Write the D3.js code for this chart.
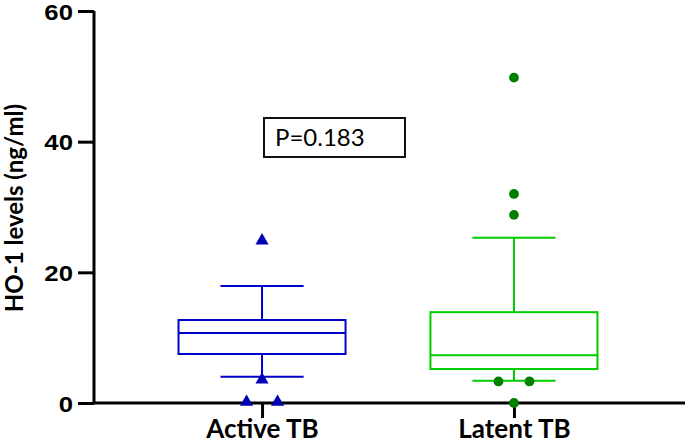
<!DOCTYPE html>
<html>
<head>
<meta charset="utf-8">
<script src="https://cdn.jsdelivr.net/npm/d3@7.9.0/dist/d3.min.js"></script>
<style>
  body { margin: 0; background: #fff; }
  svg { display: block; }
</style>
</head>
<body>
<div id="chart"></div>
<script>
// Box plot data
const groups = ['Active TB', 'Latent TB'];
const whiskerLow = [4.0, 3.4];
const q1 = [7.5, 5.2];
const medians = [10.7, 7.3];
const q3 = [12.7, 13.9];
const whiskerHigh = [17.9, 25.3];
const outliers = [
  [24.7, 3.4, 0, 0],
  [49.8, 32.0, 28.8, 3.3, 3.3, 0]
];
const yTicks = [0, 20, 40, 60];
const pLabel = 'P=0.183';

const lineColors = ['#0000cc', '#00cc00'];
const pointColors = ['#0000b4', '#008000'];

const width = 685, height = 444;
const svg = d3.select('#chart').append('svg')
  .attr('width', width)
  .attr('height', height);

const y = d3.scaleLinear().domain([0, 60]).range([403, 11]);
const x = d3.scalePoint().domain(groups).range([94, 682]).padding(0.667);
const step = x.step();
const boxW = step * 0.663;
const capW = step * 0.33;

// P value box
const pBox = svg.append('g');
pBox.append('rect')
  .attr('x', 264).attr('y', 118)
  .attr('width', 141).attr('height', 39)
  .attr('fill', 'none').attr('stroke', '#111').attr('stroke-width', 2);
pBox.append('text')
  .attr('x', 275).attr('y', 146)
  .attr('font-family', 'Lato, sans-serif')
  .attr('font-size', 24)
  .text(pLabel);

// Boxes
groups.forEach((g, i) => {
  const cx = x(g);
  const gg = svg.append('g')
    .attr('stroke', lineColors[i])
    .attr('stroke-width', 2)
    .attr('fill', 'none');

  gg.append('rect')
    .attr('x', cx - boxW / 2).attr('y', y(q3[i]))
    .attr('width', boxW).attr('height', y(q1[i]) - y(q3[i]));
  gg.append('line')
    .attr('x1', cx - boxW / 2).attr('x2', cx + boxW / 2)
    .attr('y1', y(medians[i])).attr('y2', y(medians[i]));
  // whiskers
  gg.append('line')
    .attr('x1', cx).attr('x2', cx)
    .attr('y1', y(q3[i])).attr('y2', y(whiskerHigh[i]));
  gg.append('line')
    .attr('x1', cx).attr('x2', cx)
    .attr('y1', y(q1[i])).attr('y2', y(whiskerLow[i]));
  [whiskerHigh[i], whiskerLow[i]].forEach(v => {
    gg.append('line')
      .attr('x1', cx - capW / 2).attr('x2', cx + capW / 2)
      .attr('y1', y(v)).attr('y2', y(v));
  });
});

// Axes
const yAxis = svg.append('g')
  .attr('transform', 'translate(94,0)')
  .call(d3.axisLeft(y).tickValues(yTicks).tickSize(16));
yAxis.select('.domain').attr('stroke-width', 3).attr('d', `M0,${y(60)}V${y(0)}`);
yAxis.selectAll('.tick line').attr('stroke-width', 3);
yAxis.selectAll('.tick text')
  .attr('font-family', 'Liberation Sans, Arial, sans-serif')
  .attr('font-weight', 'bold')
  .attr('font-size', 23)
  .attr('dy', '0.36em')
  .attr('transform', 'scale(1.12,1)')
  .attr('x', -21 / 1.12)
  .attr('fill', '#000');

const xAxis = svg.append('g')
  .attr('transform', `translate(0,${y(0)})`)
  .call(d3.axisBottom(x).tickSize(15));
xAxis.select('.domain').attr('stroke-width', 3).attr('d', `M94,0H${width}`);
xAxis.selectAll('.tick line').attr('stroke-width', 3);
xAxis.selectAll('.tick text')
  .attr('font-family', 'Lato, sans-serif')
  .attr('font-weight', 'bold')
  .attr('font-size', 26)
  .attr('y', 35)
  .attr('dy', 0)
  .attr('fill', '#000');

svg.append('text')
  .attr('transform', 'translate(23,208) rotate(-90)')
  .attr('text-anchor', 'middle')
  .attr('font-family', 'Lato, sans-serif')
  .attr('font-weight', 'bold')
  .attr('font-size', 24)
  .text('HO-1 levels (ng/ml)');

// Outlier points: equal values spread side by side
const spread = 31;
const sym = [d3.symbolTriangle, d3.symbolCircle];
const symSize = [75, 75];
groups.forEach((g, i) => {
  const counts = d3.rollup(outliers[i], v => v.length, d => d);
  const seen = new Map();
  outliers[i].forEach(v => {
    const n = counts.get(v);
    const k = seen.get(v) || 0;
    seen.set(v, k + 1);
    const px = x(g) + (k - (n - 1) / 2) * spread;
    svg.append('path')
      .attr('d', d3.symbol().type(sym[i]).size(symSize[i])())
      .attr('transform', `translate(${px},${y(v) - (i === 0 ? 1 : 0)})`)
      .attr('fill', pointColors[i]);
  });
});
</script>
</body>
</html>
